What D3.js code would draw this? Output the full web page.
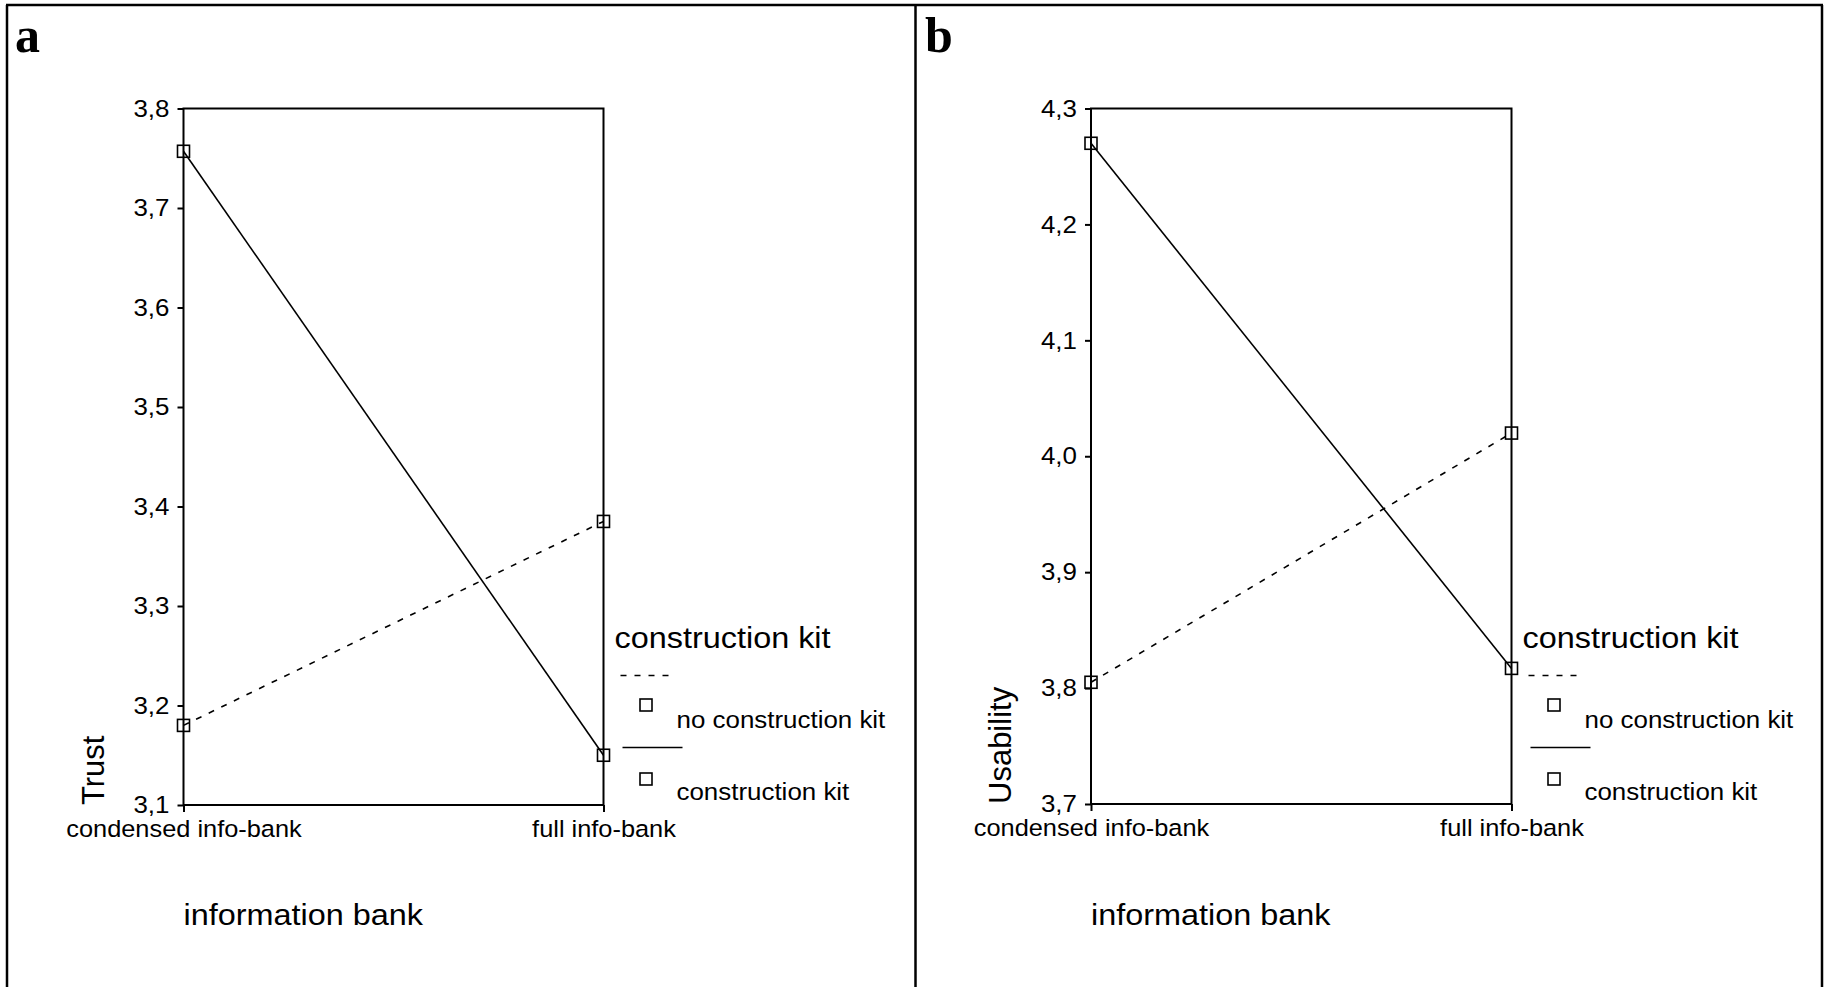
<!DOCTYPE html>
<html>
<head>
<meta charset="utf-8">
<script src="https://cdnjs.cloudflare.com/ajax/libs/d3/7.8.5/d3.min.js"></script>
<style>
  body { margin: 0; background: #fff; }
  svg text { font-family: "Liberation Sans", Arial, sans-serif; fill: #000; }
</style>
</head>
<body>
<div id="chart"></div>
<script>
// data
var categories = ["condensed info-bank", "full info-bank"];
var seriesNames = ["no construction kit", "construction kit"];

var trustNoKit = [3.18, 3.385];
var trustKit = [3.757, 3.15];
var usabilityNoKit = [3.805, 4.02];
var usabilityKit = [4.27, 3.817];

var trustTicks = [3.1, 3.2, 3.3, 3.4, 3.5, 3.6, 3.7, 3.8];
var usabilityTicks = [3.7, 3.8, 3.9, 4.0, 4.1, 4.2, 4.3];

var width = 1826, height = 987;
var stretch = 1.08; // the source text is a bit wide

var svg = d3.select("#chart").append("svg")
  .attr("width", width)
  .attr("height", height);

// outer frame of the figure
var frame = [
  [6, 5, 1823, 5],
  [7, 5, 7, height],
  [915.5, 5, 915.5, height],
  [1822, 5, 1822, height]
];
svg.selectAll("line.frame")
  .data(frame)
  .enter().append("line")
  .attr("class", "frame")
  .attr("x1", function (d) { return d[0]; })
  .attr("y1", function (d) { return d[1]; })
  .attr("x2", function (d) { return d[2]; })
  .attr("y2", function (d) { return d[3]; })
  .attr("stroke", "#000")
  .attr("stroke-width", 2.5);

var fmt = function (v) { return d3.format(".1f")(v).replace(".", ","); };

function panel(opt) {
  var x = d3.scalePoint().domain(categories).range([opt.left, opt.right]);
  var y = d3.scaleLinear()
    .domain(d3.extent(opt.ticks))
    .range([opt.bottom, opt.top]);

  var g = svg.append("g");

  g.append("text")
    .attr("x", opt.letterX)
    .attr("y", 52)
    .style("font-family", "'Liberation Serif', 'Times New Roman', serif")
    .style("font-weight", "bold")
    .style("font-size", "50px")
    .text(opt.letter);

  // y axis
  var ya = g.append("g")
    .attr("transform", "translate(" + opt.left + ",0)")
    .call(d3.axisLeft(y).tickValues(opt.ticks).tickFormat(fmt)
      .tickSize(6).tickSizeOuter(0).tickPadding(7));
  ya.select(".domain").remove();
  ya.selectAll("line").attr("stroke", "#000").attr("stroke-width", 2);
  ya.selectAll("text")
    .style("font-size", "24px")
    .attr("font-family", null)
    .attr("transform", "scale(" + stretch + ",1)");

  // x axis
  var xa = g.append("g")
    .attr("transform", "translate(0," + opt.bottom + ")")
    .call(d3.axisBottom(x).tickSize(7).tickSizeOuter(0).tickPadding(8));
  xa.select(".domain").remove();
  xa.selectAll("line").attr("stroke", "#000").attr("stroke-width", 2);
  xa.selectAll("text")
    .style("font-size", "23.5px")
    .attr("font-family", null)
    .attr("transform", "scale(" + stretch + ",1)");

  // plot box
  g.append("rect")
    .attr("x", opt.left)
    .attr("y", opt.top)
    .attr("width", opt.right - opt.left)
    .attr("height", opt.bottom - opt.top)
    .attr("fill", "none")
    .attr("stroke", "#000")
    .attr("stroke-width", 2);

  // axis titles
  g.append("text")
    .attr("transform", "translate(" + opt.left + ",925) scale(" + stretch + ",1)")
    .style("font-size", "30px")
    .text("information bank");

  g.append("text")
    .attr("transform", "translate(" + (opt.left - 80) + "," + opt.bottom + ") rotate(-90)")
    .style("font-size", "31px")
    .text(opt.yTitle);

  var line = d3.line()
    .x(function (d, i) { return x(categories[i]); })
    .y(function (d) { return y(d); });

  var series = [
    { values: opt.noKit, dash: "6,8" },
    { values: opt.kit, dash: null }
  ];

  series.forEach(function (s) {
    g.append("path")
      .datum(s.values)
      .attr("d", line)
      .attr("fill", "none")
      .attr("stroke", "#000")
      .attr("stroke-width", 1.6)
      .attr("stroke-dasharray", s.dash);

    g.selectAll(null)
      .data(s.values)
      .enter().append("rect")
      .attr("x", function (d, i) { return x(categories[i]) - 6; })
      .attr("y", function (d) { return y(d) - 6; })
      .attr("width", 12)
      .attr("height", 12)
      .attr("fill", "none")
      .attr("stroke", "#000")
      .attr("stroke-width", 1.6);
  });

  // legend
  var R = opt.right;
  var lg = g.append("g").attr("transform", "translate(" + R + ",0)");
  lg.append("text")
    .attr("transform", "translate(11,648) scale(" + stretch + ",1)")
    .style("font-size", "30px")
    .text("construction kit");

  var rows = [
    { name: seriesNames[0], dash: "6,8", lineY: 675.5, boxY: 705, textY: 727.5, x1: 17, x2: 72 },
    { name: seriesNames[1], dash: null, lineY: 747.5, boxY: 779, textY: 799.5, x1: 19, x2: 79 }
  ];
  rows.forEach(function (r) {
    lg.append("line")
      .attr("x1", r.x1).attr("x2", r.x2)
      .attr("y1", r.lineY).attr("y2", r.lineY)
      .attr("stroke", "#000")
      .attr("stroke-width", 1.6)
      .attr("stroke-dasharray", r.dash);
    lg.append("rect")
      .attr("x", 42.5 - 6).attr("y", r.boxY - 6)
      .attr("width", 12).attr("height", 12)
      .attr("fill", "none")
      .attr("stroke", "#000")
      .attr("stroke-width", 1.6);
    lg.append("text")
      .attr("transform", "translate(73," + r.textY + ") scale(" + stretch + ",1)")
      .style("font-size", "24px")
      .text(r.name);
  });
}

panel({
  letter: "a", letterX: 15,
  left: 183.5, right: 603.5, top: 108.5, bottom: 805,
  ticks: trustTicks, yTitle: "Trust",
  noKit: trustNoKit, kit: trustKit
});

panel({
  letter: "b", letterX: 925,
  left: 1091, right: 1511.5, top: 108.5, bottom: 804,
  ticks: usabilityTicks, yTitle: "Usability",
  noKit: usabilityNoKit, kit: usabilityKit
});
</script>
</body>
</html>
